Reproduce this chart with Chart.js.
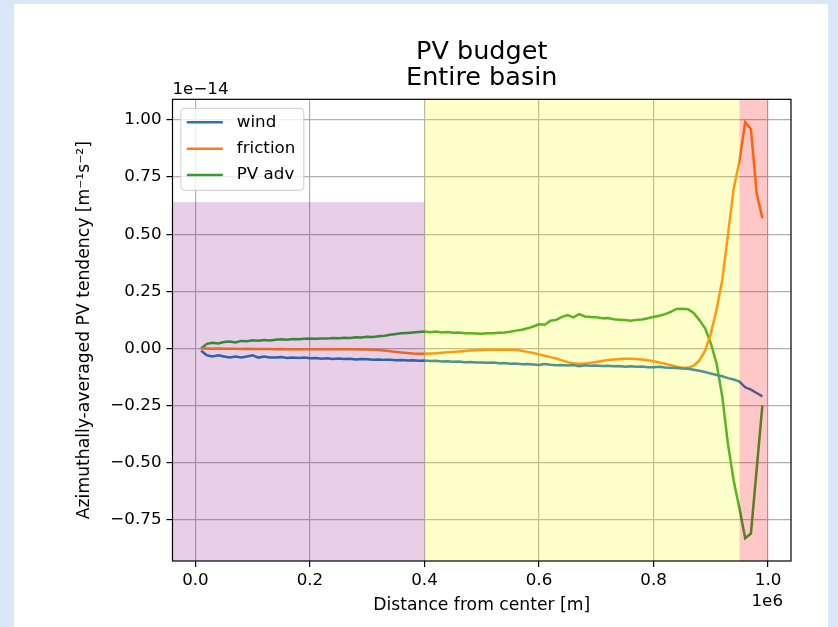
<!DOCTYPE html>
<html><head><meta charset="utf-8">
<script src="https://cdn.jsdelivr.net/npm/chart.js@4.4.0/dist/chart.umd.min.js"></script>
<style>
html,body{margin:0;padding:0;background:#dae5f6;width:838px;height:627px;overflow:hidden}
#panel{position:absolute;left:14px;top:4px;width:814px;height:623px;background:#ffffff}
#wrap{position:absolute;left:0;top:0;width:838px;height:627px}
</style></head><body>
<div id="panel"></div>
<div id="wrap"><canvas id="c" width="838" height="627"></canvas></div>
<script>
// Distance from center, in units of 1e6 m
const distance = [
 0.01,0.02,0.03,0.04,0.05,0.06,0.07,0.08,0.09,0.10,
 0.11,0.12,0.13,0.14,0.15,0.16,0.17,0.18,0.19,0.20,
 0.21,0.22,0.23,0.24,0.25,0.26,0.27,0.28,0.29,0.30,
 0.31,0.32,0.33,0.34,0.35,0.36,0.37,0.38,0.39,0.40,
 0.41,0.42,0.43,0.44,0.45,0.46,0.47,0.48,0.49,0.50,
 0.51,0.52,0.53,0.54,0.55,0.56,0.57,0.58,0.59,0.60,
 0.61,0.62,0.63,0.64,0.65,0.66,0.67,0.68,0.69,0.70,
 0.71,0.72,0.73,0.74,0.75,0.76,0.77,0.78,0.79,0.80,
 0.81,0.82,0.83,0.84,0.85,0.86,0.87,0.88,0.89,0.90,
 0.91,0.92,0.93,0.94,0.95,0.96,0.97,0.98,0.99
];
// PV tendencies, in units of 1e-14 m^-1 s^-2
const wind = [
 -0.010,-0.030,-0.035,-0.030,-0.035,-0.040,-0.035,-0.040,-0.035,-0.030,
 -0.040,-0.035,-0.040,-0.040,-0.038,-0.042,-0.040,-0.042,-0.040,-0.043,
 -0.042,-0.045,-0.043,-0.046,-0.044,-0.046,-0.045,-0.048,-0.046,-0.047,
 -0.049,-0.048,-0.050,-0.050,-0.052,-0.051,-0.053,-0.052,-0.054,-0.053,
 -0.055,-0.054,-0.057,-0.056,-0.058,-0.057,-0.060,-0.059,-0.062,-0.061,
 -0.063,-0.062,-0.065,-0.064,-0.067,-0.066,-0.069,-0.068,-0.070,-0.072,
 -0.068,-0.071,-0.073,-0.072,-0.075,-0.073,-0.078,-0.074,-0.076,-0.075,
 -0.077,-0.076,-0.078,-0.077,-0.080,-0.078,-0.080,-0.079,-0.082,-0.082,
 -0.080,-0.083,-0.084,-0.086,-0.088,-0.089,-0.093,-0.098,-0.103,-0.110,
 -0.116,-0.122,-0.130,-0.136,-0.145,-0.170,-0.180,-0.195,-0.210
];
const friction = [
 0.000,0.000,-0.001,0.000,-0.001,-0.001,-0.001,-0.002,-0.001,-0.002,
 -0.002,-0.002,-0.002,-0.003,-0.002,-0.003,-0.003,-0.003,-0.003,-0.003,
 -0.003,-0.003,-0.004,-0.003,-0.004,-0.004,-0.004,-0.004,-0.005,-0.005,
 -0.006,-0.007,-0.009,-0.012,-0.015,-0.018,-0.020,-0.022,-0.023,-0.023,
 -0.022,-0.021,-0.019,-0.017,-0.015,-0.013,-0.011,-0.009,-0.008,-0.007,
 -0.006,-0.006,-0.006,-0.006,-0.006,-0.007,-0.010,-0.015,-0.020,-0.026,
 -0.032,-0.038,-0.044,-0.052,-0.060,-0.065,-0.067,-0.066,-0.063,-0.059,
 -0.055,-0.051,-0.048,-0.046,-0.045,-0.045,-0.046,-0.048,-0.052,-0.056,
 -0.061,-0.067,-0.073,-0.079,-0.084,-0.085,-0.075,-0.052,-0.010,0.065,
 0.170,0.300,0.500,0.700,0.820,0.990,0.960,0.680,0.570
];
const pvAdv = [
 0.000,0.020,0.025,0.022,0.028,0.030,0.026,0.033,0.032,0.036,
 0.034,0.037,0.035,0.038,0.040,0.038,0.041,0.040,0.042,0.043,
 0.042,0.044,0.043,0.046,0.045,0.047,0.046,0.049,0.048,0.051,
 0.050,0.053,0.056,0.060,0.063,0.066,0.068,0.070,0.072,0.074,
 0.071,0.074,0.070,0.072,0.069,0.070,0.067,0.066,0.065,0.064,
 0.066,0.067,0.069,0.070,0.073,0.078,0.082,0.088,0.096,0.106,
 0.104,0.121,0.125,0.138,0.146,0.136,0.150,0.140,0.138,0.137,
 0.132,0.133,0.128,0.126,0.124,0.121,0.125,0.127,0.132,0.138,
 0.143,0.150,0.160,0.173,0.174,0.172,0.155,0.124,0.088,0.022,
 -0.066,-0.210,-0.420,-0.580,-0.700,-0.830,-0.810,-0.530,-0.250
];
const seriesLabels = ['wind', 'friction', 'PV adv'];
const xTickValues = [0.0, 0.2, 0.4, 0.6, 0.8, 1.0];
const yTickValues = [-0.75, -0.50, -0.25, 0.00, 0.25, 0.50, 0.75, 1.00];
// Shaded regions (x in 1e6 m; yTop null = full height, xStart null = axis left edge)
const regionXStart = [null, 0.40, 0.95];
const regionXEnd = [0.40, 0.95, 1.00];
const regionYTop = [0.64, null, null];
const regionColors = ['rgba(128,0,128,0.19)', 'rgba(255,255,0,0.21)', 'rgba(255,0,0,0.22)'];

const FONT = "'DejaVu Sans', sans-serif";
const colors = ['#1f77b4', '#ff7f0e', '#2ca02c'];
const seriesValues = [wind, friction, pvAdv];
const minus = s => s.replace('-', '\u2212');

const overlay = {
  id: 'overlay',
  afterDatasetsDraw(chart) {
    const {ctx, chartArea: a, scales: {x, y}} = chart;
    ctx.save();
    for (let i = 0; i < regionXEnd.length; i++) {
      const x0 = regionXStart[i] === null ? a.left : x.getPixelForValue(regionXStart[i]);
      const x1 = x.getPixelForValue(regionXEnd[i]);
      const y0 = regionYTop[i] === null ? a.top : y.getPixelForValue(regionYTop[i]);
      ctx.fillStyle = regionColors[i];
      ctx.fillRect(x0, y0, x1 - x0, a.bottom - y0);
    }
    ctx.restore();
  },
  afterDraw(chart) {
    const {ctx, chartArea: a} = chart;
    ctx.save();
    // spines
    ctx.strokeStyle = '#000';
    ctx.lineWidth = 1.2;
    ctx.strokeRect(a.left, a.top, a.right - a.left, a.bottom - a.top);
    // legend
    const lx = a.left + 8.3, ly = a.top + 9, lw = 123, lh = 82;
    ctx.beginPath();
    ctx.roundRect(lx, ly, lw, lh, 4);
    ctx.fillStyle = 'rgba(255,255,255,0.8)';
    ctx.fill();
    ctx.strokeStyle = 'rgba(204,204,204,0.8)';
    ctx.lineWidth = 1.2;
    ctx.stroke();
    ctx.font = '16.7px ' + FONT;
    ctx.textBaseline = 'middle';
    ctx.textAlign = 'left';
    chart.data.datasets.forEach((ds, i) => {
      const yy = ly + 14 + i * 26.4;
      ctx.strokeStyle = ds.borderColor;
      ctx.lineWidth = 2.5;
      ctx.beginPath();
      ctx.moveTo(lx + 6, yy);
      ctx.lineTo(lx + 42, yy);
      ctx.stroke();
      ctx.fillStyle = '#000';
      ctx.fillText(ds.label, lx + 56, yy);
    });
    // offset texts
    ctx.fillStyle = '#000';
    ctx.font = '16.7px ' + FONT;
    ctx.textAlign = 'left';
    ctx.textBaseline = 'alphabetic';
    ctx.fillText('1e\u221214', a.left, a.top - 5);
    ctx.textAlign = 'right';
    ctx.fillText('1e6', 783, 606);
    ctx.restore();
  }
};

new Chart(document.getElementById('c'), {
  type: 'line',
  data: {
    datasets: seriesLabels.map((lab, i) => ({
      label: lab,
      data: distance.map((d, j) => ({x: d, y: seriesValues[i][j]})),
      borderColor: colors[i],
      backgroundColor: colors[i],
      borderWidth: 2.5,
      pointRadius: 0,
      tension: 0,
      fill: false
    }))
  },
  options: {
    responsive: false,
    animation: false,
    layout: {padding: {left: 0, right: 47, top: 0, bottom: 0}},
    plugins: {
      legend: {display: false},
      tooltip: {enabled: false},
      title: {
        display: true,
        text: ['PV budget', 'Entire basin'],
        fullSize: false,
        color: '#000',
        font: {family: FONT, size: 25.5, weight: 'normal', lineHeight: 1.02},
        padding: {top: 39, bottom: 8.3}
      }
    },
    scales: {
      x: {
        type: 'linear',
        min: -0.04, max: 1.04,
        afterBuildTicks: s => { s.ticks = xTickValues.map(v => ({value: v})); },
        afterFit: s => { s.height = 66; },
        ticks: {
          callback: v => minus(Number(v).toFixed(1)),
          color: '#000', font: {family: FONT, size: 16.7}, padding: 4, maxRotation: 0, autoSkip: false
        },
        grid: {color: '#b0b0b0', lineWidth: 1.2, tickColor: '#000', tickLength: 6, tickWidth: 1.2},
        border: {display: false},
        title: {display: true, text: 'Distance from center [m]', color: '#000',
          font: {family: FONT, size: 17.2}, padding: {top: 0, bottom: 11}}
      },
      y: {
        type: 'linear',
        min: -0.93, max: 1.09,
        afterBuildTicks: s => { s.ticks = yTickValues.map(v => ({value: v})); },
        afterFit: s => { s.width = 172.5; },
        ticks: {
          callback: v => minus(Number(v).toFixed(2)),
          color: '#000', font: {family: FONT, size: 16.7}, padding: 5, autoSkip: false
        },
        grid: {color: '#b0b0b0', lineWidth: 1.2, tickColor: '#000', tickLength: 6, tickWidth: 1.2},
        border: {display: false},
        title: {display: true, text: 'Azimuthally-averaged PV tendency [m\u207B\u00B9s\u207B\u00B2]', color: '#000',
          font: {family: FONT, size: 17.2}, padding: {top: 74, bottom: 0}}
      }
    }
  },
  plugins: [overlay]
});
</script>
</body></html>
